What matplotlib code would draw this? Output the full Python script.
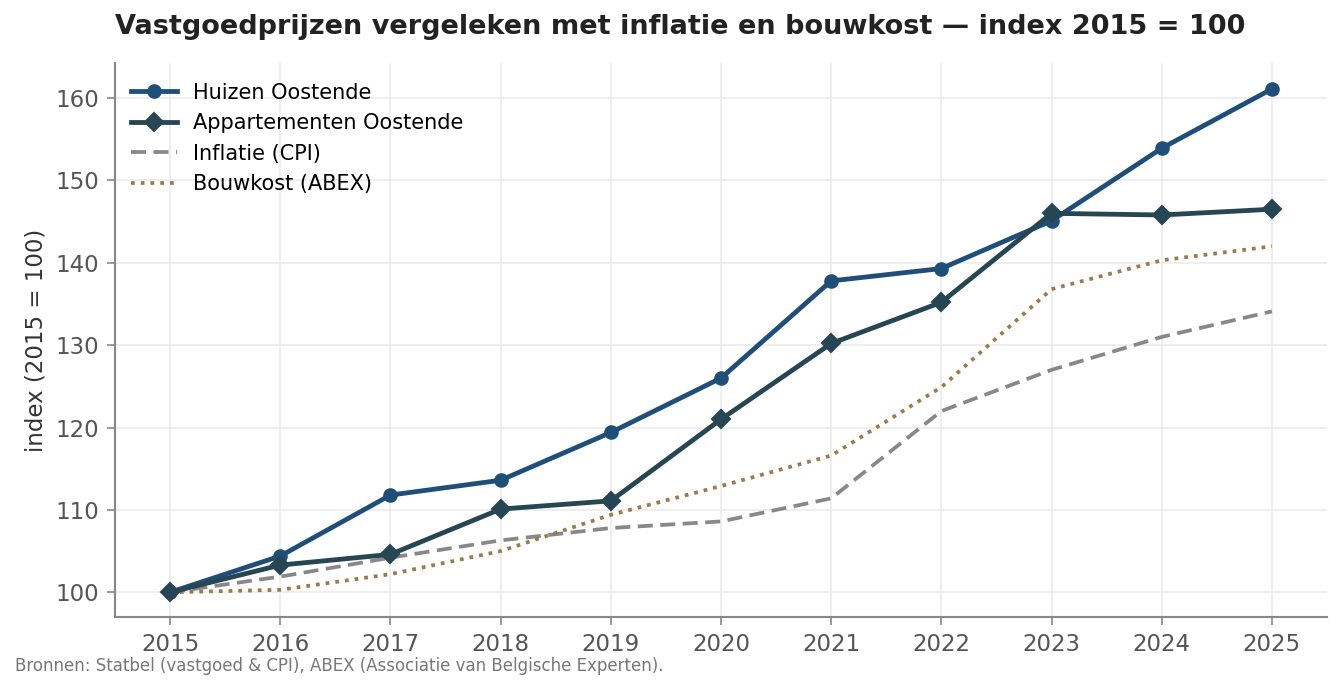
import matplotlib
matplotlib.use("Agg")
import matplotlib.pyplot as plt

years = [2015, 2016, 2017, 2018, 2019, 2020, 2021, 2022, 2023, 2024, 2025]
huizen = [100, 104.4, 111.8, 113.6, 119.4, 126.0, 137.8, 139.3, 145.1, 153.9, 161.1]
appartementen = [100, 103.3, 104.6, 110.1, 111.1, 121.0, 130.2, 135.2, 146.0, 145.8, 146.5]
cpi = [100, 101.9, 104.2, 106.3, 107.8, 108.6, 111.4, 122.0, 127.0, 131.0, 134.1]
abex = [100, 100.3, 102.2, 105.0, 109.4, 112.9, 116.6, 124.9, 136.8, 140.3, 142.0]

labels = ["Huizen Oostende", "Appartementen Oostende", "Inflatie (CPI)", "Bouwkost (ABEX)"]
title = "Vastgoedprijzen vergeleken met inflatie en bouwkost \u2014 index 2015 = 100"
ylabel = "index (2015 = 100)"
caption = "Bronnen: Statbel (vastgoed & CPI), ABEX (Associatie van Belgische Experten)."

fig = plt.figure(figsize=(8.94, 4.6067), dpi=150)
ax = fig.add_axes([115/1341, 1-617/691, (1327-115)/1341, (617-63)/691])

ax.plot(years, huizen, color="#1f4e79", lw=2.3, marker="o", ms=6, label=labels[0], zorder=4)
ax.plot(years, appartementen, color="#264653", lw=2.3, marker="D", ms=6, label=labels[1], zorder=4)
ax.plot(years, cpi, color="#888888", lw=1.8, ls=(0, (4, 2)), label=labels[2], zorder=3)
ax.plot(years, abex, color="#9c7a4a", lw=1.8, ls=(0, (1, 1.6)), label=labels[3], zorder=3)

ax.set_xlim(2014.5, 2025.5)
ax.set_ylim(97, 164.25)
ax.set_xticks(years)
ax.set_yticks([100, 110, 120, 130, 140, 150, 160])
ax.grid(True, color="#ebebeb", lw=0.8)
ax.set_axisbelow(True)
for s in ["top", "right"]:
    ax.spines[s].set_visible(False)
for s in ["left", "bottom"]:
    ax.spines[s].set_color("#888888")
    ax.spines[s].set_linewidth(1.0)
ax.tick_params(colors="#555555", labelsize=11, length=4, color="#888888")
ax.set_ylabel(ylabel, fontsize=11, color="#333333")

ax.legend(loc="upper left", bbox_to_anchor=(-0.004, 1.002), frameon=False, fontsize=10,
          handlelength=2.2, borderaxespad=0.6, labelspacing=0.5)

fig.text(115/1341, 1-27/691, title, fontsize=13, fontweight="bold", color="#222222",
         ha="left", va="center")
fig.text(15/1341, 1-666/691, caption, fontsize=8, color="#777777", ha="left", va="center")

fig.savefig("out.png", dpi=150)
